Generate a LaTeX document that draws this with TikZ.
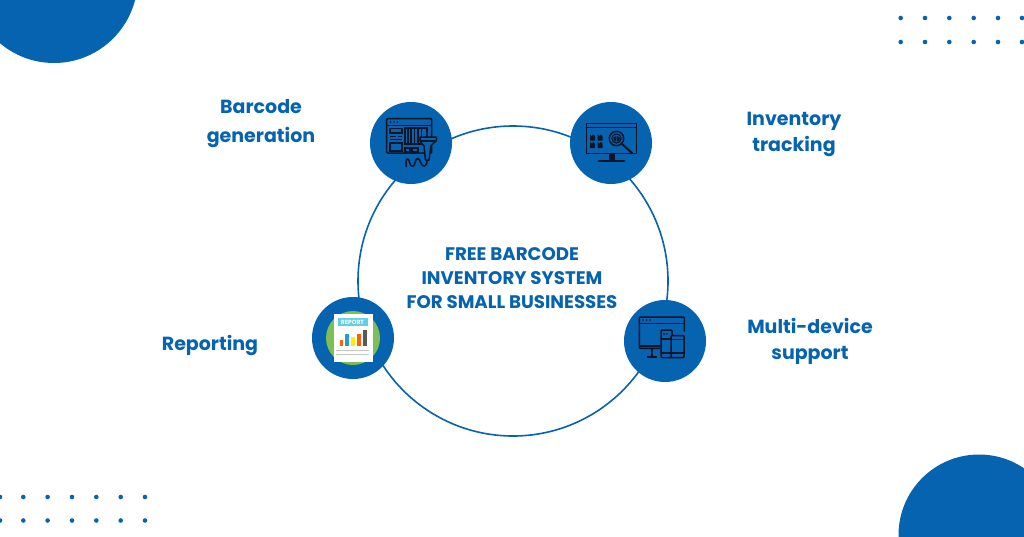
\documentclass[tikz,border=0pt]{standalone}
\usepackage{fontspec}
\setmainfont{Poppins}
\definecolor{brand}{HTML}{0563B0}
\definecolor{ink}{HTML}{0B1526}
\definecolor{leaf}{HTML}{7DBE55}
\tikzset{
  disc/.style={circle,fill=brand,draw=none,minimum size=82pt,inner sep=0pt},
  ringnode/.style={circle,draw=brand,line width=1.6pt,minimum size=310pt,inner sep=0pt},
  corner/.style={circle,fill=brand,draw=none,inner sep=0pt},
  dotnode/.style={circle,fill=brand,draw=none,minimum size=4.6pt,inner sep=0pt},
  lab/.style={text=brand,align=center,font=\fontsize{19}{#1}\bfseries\selectfont},
  title/.style={text=brand,align=center,font=\fontsize{18.2}{24}\bfseries\selectfont},
  icon/.style={draw=ink,line width=1.5pt,line join=round,fill=none},
  iconthin/.style={draw=ink,line width=1.1pt,fill=none},
  iconfill/.style={fill=ink,draw=none}
}
\begin{document}
\begin{tikzpicture}[x=1pt,y=-1pt]
\useasboundingbox (0,0) rectangle (1024,536);
\begin{scope}
\clip (0,0) rectangle (1024,536);
\node[corner,minimum size=167.2pt] (tl) at (54,-20.6) {};
\node[corner,minimum size=161pt] (br) at (979,535) {};
\end{scope}
\foreach \x/\n in {900.7/1,925/2,949.3/3,973.7/4,998/5,1022/6}{
  \node[dotnode] (ta\n) at (\x,18) {};
  \node[dotnode] (tb\n) at (\x,42) {};
}
\foreach \x/\n in {0/1,23.3/2,47.6/3,72/4,96.3/5,120.7/6,145/7}{
  \node[dotnode] (ba\n) at (\x,497) {};
  \node[dotnode] (bb\n) at (\x,520.5) {};
}
\node[ringnode] (ring) at (513,281) {};
\node[disc] (d1) at (411,143) {};
\node[disc] (d2) at (611,143) {};
\node[disc] (d3) at (353,338) {};
\node[disc] (d4) at (665,341) {};
% barcode icon
\draw[icon,rounded corners=1pt] (386.7,118.5) rectangle (431.7,153);
\draw[icon] (386.7,125.5) -- (431.7,125.5);
\foreach \x in {390.5,394,397.5} \fill[ink] (\x,122) circle (0.9);
\draw[iconthin] (390,128.5) rectangle (402,133);
\draw[iconthin] (390,136.5) -- (396,136.5) (398,136.5) -- (402,136.5);
\draw[iconthin] (390,139.5) -- (402,139.5);
\draw[iconthin] (390,143) rectangle (402,151);
\draw[iconthin] (405,128) rectangle (427,144);
\foreach \x in {408,411,414.5,418,421.5} \draw[ink,line width=1.3pt] (\x,129) -- (\x,143);
\draw[iconthin] (405,148) rectangle (410,152);
\draw[iconthin] (412,148) rectangle (418,152);
\draw[icon,fill=brand] (420,137) -- (436,137) .. controls (437,137) and (437,140) .. (436,141) -- (431,145.5) -- (429,160) -- (425.5,160) -- (424,146) -- (420,141) -- cycle;
\draw[iconthin] (421,141) -- (435,141);
\draw[icon] (427,160.5) .. controls (427,168) and (422,167) .. (421,163) .. controls (419,157) and (416,157) .. (415,163) .. controls (414,168) and (410,167) .. (409.5,162) .. controls (409,158) and (406,158) .. (406,162) -- (406,167);
% inventory icon
\draw[icon] (586.7,123.5) rectangle (636.7,153.5);
\draw[icon] (586.7,127.5) -- (636.7,127.5);
\foreach \x in {590,597.5}\foreach \y in {134.5,142}{
  \fill[ink] (\x,\y) -- (\x+1.7,\y+1.6) -- (\x+3.4,\y+0) -- (\x+5,\y+1.6) -- (\x+5,\y+6) -- (\x,\y+6) -- cycle;
}
\draw[icon,fill=brand,line width=1.5pt] (616.5,138.5) circle (7.2);
\draw[iconthin] (616.5,138.5) circle (4.6);
\fill[ink] (613.5,137.5) -- (616.3,136) -- (616.3,141.5) -- (613.8,140.5) -- cycle;
\fill[ink] (617,136) -- (619.7,137.5) -- (619.5,140.5) -- (617,141.5) -- cycle;
\draw[ink,line width=2pt,line cap=round] (622,144) -- (632.5,153.5);
\fill[ink] (608.5,153.5) rectangle (615,159.5);
\draw[ink,line width=2.8pt,line cap=round] (599,161) -- (624,161);
% report icon
\fill[leaf] (353,338) circle (27);
\fill[white] (333.5,313.5) rectangle (372.7,361.7);
\fill[white!55!brand!70!cyan] (337.5,318.3) rectangle (367.7,326);
\node[text=white,font=\fontsize{6}{6}\bfseries\selectfont,inner sep=0pt] (rep) at (352.5,322.2) {REPORT};
\fill[orange!80!red] (339.5,340) rectangle (342.7,346);
\fill[blue!35!cyan!70!gray] (345,333.5) rectangle (348.8,346);
\fill[yellow!95!orange] (351,336.7) rectangle (354.7,346);
\fill[orange!75!red] (356.7,333.7) rectangle (360.7,346);
\fill[gray!70!black] (362.7,330.3) rectangle (366.7,346);
\draw[gray!45,line width=0.9pt] (336,350) -- (369.3,350) (336,354) -- (369.3,354);
% multi device icon
\draw[icon,rounded corners=1pt] (660,348.3) -- (639.3,348.3) -- (639.3,317) -- (684.3,317) -- (684.3,331.5);
\draw[icon] (639.3,323.5) -- (684.3,323.5);
\foreach \x in {643,646.5,650} \fill[ink] (\x,320) circle (0.9);
\draw[icon] (639.3,346) -- (660,346);
\draw[icon] (652,349) -- (652,356.5) (647,357) -- (657,357);
\draw[icon,rounded corners=1pt,fill=brand] (661,330) rectangle (672,357.5);
\draw[iconthin] (661,339) -- (672,339) (661,353) -- (672,353);
\foreach \x in {664,667} \fill[ink] (\x,334) circle (0.8);
\draw[icon,rounded corners=1pt,fill=brand] (671,335.5) rectangle (684,357.5);
\draw[iconthin] (671,339.5) -- (684,339.5) (671,353) -- (684,353);
% labels
\node[lab=29,inner sep=0pt] (l1) at (261,124) {Barcode\\generation};
\node[lab=26,inner sep=0pt] (l2) at (794,134) {Inventory\\tracking};
\node[lab=26,inner sep=0pt] (l3) at (210,345.5) {Reporting};
\node[lab=26,inner sep=0pt] (l4) at (810,341.5) {Multi-device\\support};
\node[title,inner sep=0pt] (t) at (512,278) {FREE BARCODE\\INVENTORY SYSTEM\\FOR SMALL BUSINESSES};
\end{tikzpicture}
\end{document}
